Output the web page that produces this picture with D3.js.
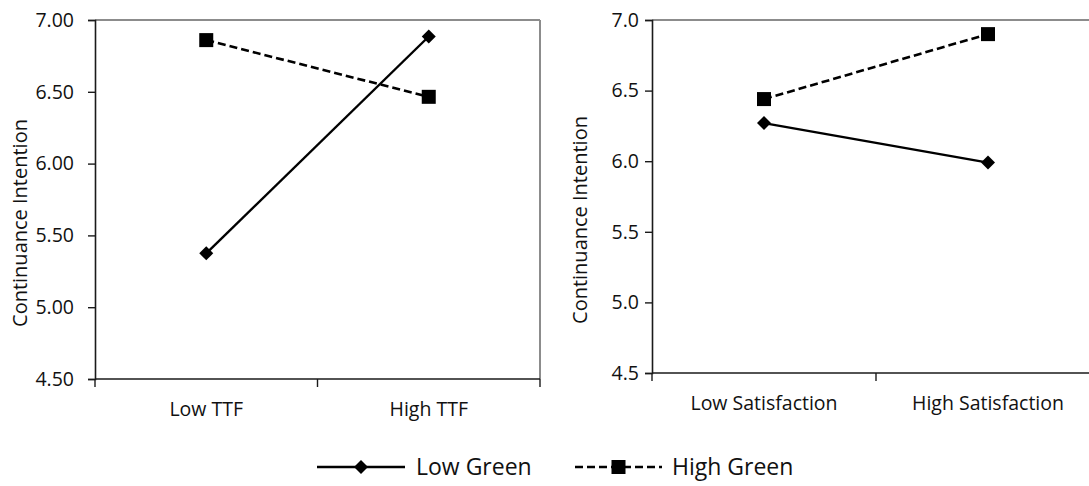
<!DOCTYPE html>
<html>
<head>
<meta charset="utf-8">
<script src="https://cdn.jsdelivr.net/npm/d3@7"></script>
<style>
  body { margin: 0; background: white; }
  svg { display: block; font-family: "Open Sans", sans-serif; }
</style>
</head>
<body>
<svg id="chart" width="1089" height="486"></svg>
<script>
// left panel: TTF x Green
const ttfCats = ["Low TTF", "High TTF"];
const ttfLowGreen = [5.375, 6.885];
const ttfHighGreen = [6.86, 6.465];
const ttfTicks = [4.5, 5.0, 5.5, 6.0, 6.5, 7.0];

// right panel: Satisfaction x Green
const satCats = ["Low Satisfaction", "High Satisfaction"];
const satLowGreen = [6.27, 5.99];
const satHighGreen = [6.44, 6.90];
const satTicks = [4.5, 5.0, 5.5, 6.0, 6.5, 7.0];

const seriesNames = ["Low Green", "High Green"];

const svg = d3.select("#chart");
const fontSize = 19.5;

function drawPanel(opts) {
    const g = svg.append("g");
    const x = d3.scaleBand().domain(opts.cats).range([opts.left, opts.right]).padding(0);
    const y = d3.scaleLinear().domain([4.5, 7.0]).range([opts.bottom, opts.top]);

    // gray plot area border (top and right)
    g.append("line")
        .attr("x1", opts.left).attr("x2", opts.right)
        .attr("y1", y(7)).attr("y2", y(7))
        .attr("stroke", "#8c8c8c").attr("stroke-width", 2);
    g.append("line")
        .attr("x1", opts.right).attr("x2", opts.right)
        .attr("y1", y(7)).attr("y2", y(4.5))
        .attr("stroke", "#8c8c8c").attr("stroke-width", 2);

    // y axis
    const yAxis = g.append("g")
        .attr("transform", `translate(${opts.left},0)`)
        .call(d3.axisLeft(y).tickValues(opts.ticks).tickFormat(d3.format(opts.fmt)).tickSize(7).tickPadding(opts.labelGap));
    yAxis.select(".domain").attr("stroke", "#1a1a1a").attr("stroke-width", 1.6);
    yAxis.selectAll(".tick line").attr("stroke", "#1a1a1a").attr("stroke-width", 1.4);
    yAxis.selectAll(".tick text").attr("font-size", fontSize).attr("fill", "#111")
        .attr("font-family", "'Open Sans', sans-serif");

    // x axis with ticks at category boundaries
    g.append("line")
        .attr("x1", opts.left).attr("x2", opts.right)
        .attr("y1", opts.bottom).attr("y2", opts.bottom)
        .attr("stroke", "#1a1a1a").attr("stroke-width", 1.6);
    const edges = opts.cats.map(c => x(c)).concat([x(opts.cats[opts.cats.length - 1]) + x.bandwidth()]);
    g.selectAll(".xtick").data(edges).join("line")
        .attr("x1", d => d).attr("x2", d => d)
        .attr("y1", opts.bottom).attr("y2", opts.bottom + 8)
        .attr("stroke", "#1a1a1a").attr("stroke-width", 1.4);
    g.selectAll(".xlabel").data(opts.cats).join("text")
        .attr("x", d => x(d) + x.bandwidth() / 2)
        .attr("y", opts.bottom + 37)
        .attr("text-anchor", "middle")
        .attr("font-size", fontSize).attr("fill", "#111")
        .text(d => d);

    // axis title
    g.append("text")
        .attr("transform", `translate(${opts.titleX},${opts.titleY}) rotate(-90)`)
        .attr("text-anchor", "middle")
        .attr("font-size", 20).attr("fill", "#111")
        .text("Continuance Intention");

    const cx = c => x(c) + x.bandwidth() / 2;
    const line = d3.line().x(d => cx(d.cat)).y(d => y(d.v));

    const low = opts.cats.map((c, i) => ({ cat: c, v: opts.low[i] }));
    const high = opts.cats.map((c, i) => ({ cat: c, v: opts.high[i] }));

    g.append("path").datum(high).attr("d", line)
        .attr("fill", "none").attr("stroke", "#000").attr("stroke-width", 2.6)
        .attr("stroke-dasharray", "8,4");
    g.append("path").datum(low).attr("d", line)
        .attr("fill", "none").attr("stroke", "#000").attr("stroke-width", 2.4);

    g.selectAll(".sq").data(high).join("rect")
        .attr("x", d => cx(d.cat) - 7).attr("y", d => y(d.v) - 7)
        .attr("width", 14).attr("height", 14).attr("fill", "#000");
    g.selectAll(".dm").data(low).join("path")
        .attr("d", d3.symbol(d3.symbolSquare, 98))
        .attr("transform", d => `translate(${cx(d.cat)},${y(d.v)}) rotate(45)`)
        .attr("fill", "#000");
}

drawPanel({
    cats: ttfCats, low: ttfLowGreen, high: ttfHighGreen, ticks: ttfTicks, fmt: ".2f",
    left: 95, right: 540, top: 20, bottom: 379, labelGap: 14, titleX: 27, titleY: 223
});
drawPanel({
    cats: satCats, low: satLowGreen, high: satHighGreen, ticks: satTicks, fmt: ".1f",
    left: 652, right: 1100, top: 20, bottom: 373, labelGap: 6, titleX: 587, titleY: 220
});

// legend
const legend = svg.append("g");
const legY = 467;
const legItems = [
    { name: seriesNames[0], x0: 317, x1: 405, dash: null, marker: "diamond", tx: 416 },
    { name: seriesNames[1], x0: 575, x1: 662, dash: "8,4", marker: "square", tx: 672 }
];
legItems.forEach(it => {
    legend.append("line")
        .attr("x1", it.x0).attr("x2", it.x1).attr("y1", legY).attr("y2", legY)
        .attr("stroke", "#000").attr("stroke-width", 2.6)
        .attr("stroke-dasharray", it.dash);
    const mx = (it.x0 + it.x1) / 2;
    if (it.marker === "square") {
        legend.append("rect").attr("x", mx - 7).attr("y", legY - 7)
            .attr("width", 14).attr("height", 14).attr("fill", "#000");
    } else {
        legend.append("path").attr("d", d3.symbol(d3.symbolSquare, 98))
            .attr("transform", `translate(${mx},${legY}) rotate(45)`).attr("fill", "#000");
    }
    legend.append("text").attr("x", it.tx).attr("y", legY + 8)
        .attr("font-size", 23).attr("fill", "#111").text(it.name);
});
</script>
</body>
</html>
